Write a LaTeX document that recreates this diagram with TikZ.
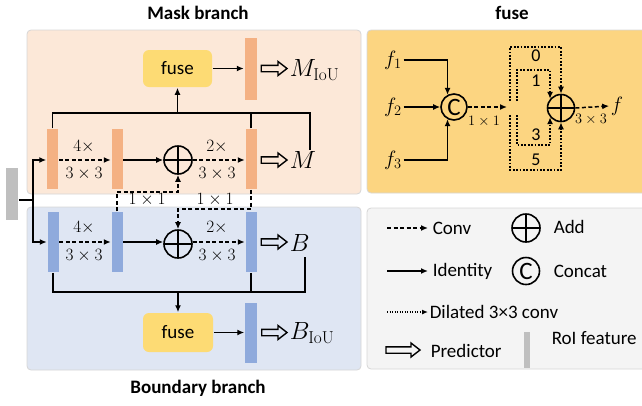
\documentclass[tikz,border=0pt]{standalone}
\usepackage[no-math]{fontspec}
\setmainfont{Carlito}
\usetikzlibrary{arrows.meta,calc}

\definecolor{maskbg}{HTML}{FCE8D8}
\definecolor{bndbg}{HTML}{DFE6F3}
\definecolor{fusebg}{HTML}{FCD581}
\definecolor{fuseyellow}{HTML}{FDDB74}
\definecolor{legbg}{HTML}{F4F4F4}
\definecolor{orangebar}{HTML}{F4B183}
\definecolor{bluebar}{HTML}{8FAADC}
\definecolor{roigray}{HTML}{BFBFBF}
\definecolor{panelline}{HTML}{D6D6D6}

% hollow block arrow (predictor) between two points
\newcommand{\predarr}[2]{%
  \draw[predline] let \p1=(#1), \p2=(#2) in
    (\x1,\y1+3.2pt) -- (\x2-9pt,\y1+3.2pt) -- (\x2-9pt,\y1+7pt) -- (\x2,\y1)
    -- (\x2-9pt,\y1-7pt) -- (\x2-9pt,\y1-3.2pt) -- (\x1,\y1-3.2pt) -- cycle;}

\begin{document}
\begin{tikzpicture}[x=1pt,y=-1pt,line width=1.5pt,
  >={Latex[length=7pt,width=6pt]},
  panel/.style={draw=panelline,line width=0.8pt,rounded corners=4pt},
  obar/.style={fill=orangebar,draw=none,inner sep=0pt,minimum width=11pt,minimum height=60pt},
  bbar/.style={fill=bluebar,draw=none,inner sep=0pt,minimum width=11pt,minimum height=60pt},
  roibar/.style={fill=roigray,draw=none,inner sep=0pt,minimum width=12pt,minimum height=52pt},
  fusenode/.style={fill=fuseyellow,draw=none,rounded corners=6pt,minimum width=69pt,minimum height=37pt,
    font=\fontsize{19}{22}\selectfont},
  addop/.style={circle,draw,line width=1.6pt,minimum size=28pt,inner sep=0pt,
    path picture={\draw[line width=1.4pt] (path picture bounding box.north) -- (path picture bounding box.south)
      (path picture bounding box.west) -- (path picture bounding box.east);}},
  catop/.style={circle,draw,line width=1.6pt,minimum size=26pt,inner sep=0pt,font=\fontsize{25}{26}\selectfont},
  convline/.style={dash pattern=on 4pt off 2.5pt},
  dil/.style={line width=1.8pt,dash pattern=on 1.8pt off 1.6pt},
  dilsmall/.style={line width=1.2pt,dash pattern=on 1.2pt off 1.3pt},
  predline/.style={line width=1.4pt,line join=miter},
  title/.style={font=\bfseries\fontsize{19}{22}\selectfont},
  sans/.style={font=\fontsize{19}{22}\selectfont,inner sep=1pt},
  digit/.style={font=\fontsize{18}{20}\selectfont,inner sep=1pt},
  mlbl/.style={font=\fontsize{16}{18}\selectfont,inner sep=1pt},
  slbl/.style={font=\fontsize{14}{16}\selectfont,inner sep=1pt},
  biglbl/.style={font=\fontsize{25}{28}\selectfont,inner sep=1pt},
  flbl/.style={font=\fontsize{22}{24}\selectfont,inner sep=1pt}]

\useasboundingbox (0,0) rectangle (642,405);

% ---------- panels ----------
\draw[panel,fill=maskbg] (27,30) rectangle (361,194);
\draw[panel,fill=bndbg] (27,207) rectangle (361,370);
\draw[panel,fill=fusebg] (367,30) rectangle (650,193);
\draw[panel,fill=legbg] (367,208) rectangle (650,369);

\node[title] (tmask) at (198,13) {Mask branch};
\node[title] (tfuse) at (512,13) {fuse};
\node[title] (tbnd) at (198,388) {Boundary branch};

% ---------- RoI input ----------
\node[roibar] (roi) at (12,194) {};
\coordinate (split) at (33,200);

% ---------- mask branch ----------
\node[obar] (m1) at (52.5,159) {};
\node[obar] (m2) at (117,159) {};
\node[addop] (madd) at (178,160) {};
\node[obar] (m3) at (251,159) {};
\node[biglbl,anchor=west] (Mlab) at (288,160) {$M$};
\node[fusenode] (mfuse) at (177.5,68.5) {fuse};
\node[obar,minimum width=12pt,minimum height=62pt] (m4) at (250.5,69) {};
\node[biglbl,anchor=west] (MIoU) at (288,70) {$M_{\mathrm{IoU}}$};

\node[mlbl] (m4x) at (84,147) {$4\times$};
\node[mlbl] (m33a) at (84,174) {$3\times3$};
\node[mlbl] (m2x) at (217,147) {$2\times$};
\node[mlbl] (m33b) at (217,174) {$3\times3$};

\draw (roi.east |- split) -- (split);
\draw[->] (split) |- (m1.west |- madd);
\draw[convline,->] (m1.east |- madd) -- (m2.west |- madd);
\draw[->] (m2.east |- madd) -- (madd.west);
\draw[convline,->] (madd.east) -- (m3.west |- madd);
\coordinate (pm1) at ($(m3.east |- madd)+(4,0)$);
\coordinate (pm2) at ($(Mlab.west |- madd)+(-1,0)$);
\predarr{pm1}{pm2}

\coordinate (mtr) at (310,113);
\coordinate (mMend) at (310,150);
\draw (m1.north) |- (mtr) -- (mMend);
\draw (m3.north) -- (m3.north |- mtr);
\draw[->] (mfuse.south |- mtr) -- (mfuse.south);
\draw[->] (mfuse.east) -- (m4.west |- mfuse);
\coordinate (pm3) at ($(m4.east |- mfuse)+(4,0)$);
\coordinate (pm4) at ($(MIoU.west |- mfuse)+(-1,0)$);
\predarr{pm3}{pm4}

% ---------- boundary branch ----------
\node[bbar] (b1) at (53,242) {};
\node[bbar] (b2) at (117,242) {};
\node[addop] (badd) at (178,244) {};
\node[bbar] (b3) at (251,242) {};
\node[biglbl,anchor=west] (Blab) at (288,243) {$B$};
\node[fusenode,minimum width=70pt,minimum height=39pt] (bfuse) at (178,332.5) {fuse};
\node[bbar,minimum width=12pt] (b4) at (251,333) {};
\node[biglbl,anchor=west] (BIoU) at (288,333) {$B_{\mathrm{IoU}}$};

\node[mlbl] (b4x) at (84,228) {$4\times$};
\node[mlbl] (b33a) at (84,256) {$3\times3$};
\node[mlbl] (b2x) at (217,228) {$2\times$};
\node[mlbl] (b33b) at (217,256) {$3\times3$};

\draw[->] (split) |- (b1.west |- b1);
\draw[convline,->] (b1.east) -- (b2.west);
\draw[->] (b2.east) -- (badd.west |- b2);
\draw[convline,->] (badd.east |- b3) -- (b3.west);
\coordinate (pb1) at ($(b3.east)+(4,0)$);
\coordinate (pb2) at ($(Blab.west |- b3)+(-1,0)$);
\predarr{pb1}{pb2}

\coordinate (bbr) at (305,292);
\coordinate (bBend) at (305,257);
\draw (b1.south) |- (bbr) -- (bBend);
\draw (b3.south) -- (b3.south |- bbr);
\draw[->] (bfuse.north |- bbr) -- (bfuse.north);
\draw[->] (bfuse.east) -- (b4.west |- bfuse);
\coordinate (pb3) at ($(b4.east |- bfuse)+(4,0)$);
\coordinate (pb4) at ($(BIoU.west |- bfuse)+(-1,0)$);
\predarr{pb3}{pb4}

% ---------- cross-branch 1x1 convs ----------
\coordinate (xa) at (117,192);
\coordinate (xb) at (251,209);
\draw[convline,->] (b2.north) -- (b2.north |- xa) -| (madd.south);
\draw[convline,->] (m3.south) -- (m3.south |- xb) -| (badd.north);
\node[mlbl] (x11a) at (147,200) {$1\times1$};
\node[mlbl] (x11b) at (215,200) {$1\times1$};

% ---------- fuse module ----------
\node[flbl] (f1) at (393,60) {$f_1$};
\node[flbl] (f2) at (393,107) {$f_2$};
\node[flbl] (f3) at (393,160) {$f_3$};
\node[catop] (cat) at (454,107) {C};
\draw[->] (f1.east) -| (cat.118);
\draw[->] (f2.east) -- (cat.west);
\draw[->] (f3.east) -| (cat.242);
\coordinate (dend) at (507,107);
\draw[convline,->] (cat.east) -- (dend);
\node[slbl] (c11) at (484,121) {$1\times1$};

\node[addop,minimum size=27pt] (fadd) at (561,108) {};
\coordinate (o1) at (510,101);
\coordinate (o1c) at (510,47);
\coordinate (o2) at (510,115);
\coordinate (o2c) at (510,170);
\coordinate (i1) at (517,101);
\coordinate (i1c) at (517,70);
\coordinate (i2) at (517,115);
\coordinate (i2c) at (517,145);
\draw[dil,->] (o1) -- (o1c) -| (fadd.north);
\draw[dil,->] (o2) -- (o2c) -| (fadd.south);
\draw[dil,->] (i1) -- (i1c) -| (fadd.140);
\draw[dil,->] (i2) -- (i2c) -| (fadd.220);
\node[digit] (d0) at (536,56) {0};
\node[digit] (d1) at (536,81) {1};
\node[digit] (d3) at (536,135) {3};
\node[digit] (d5) at (536,160) {5};

\node[flbl] (fout) at (617,106) {$f$};
\draw[convline,->] (fadd.east) -- (fout.west);
\node[slbl] (c33) at (591,119) {$3\times3$};

% ---------- legend ----------
\coordinate (l1a) at (387,228); \coordinate (l1b) at (428,228);
\coordinate (l2a) at (387,271); \coordinate (l2b) at (428,271);
\coordinate (l3a) at (387,312); \coordinate (l3b) at (428,312);
\coordinate (l4a) at (386,350); \coordinate (l4b) at (420,350);
\draw[convline,->] (l1a) -- (l1b);
\draw[->] (l2a) -- (l2b);
\draw[dilsmall,-{Latex[length=6pt,width=5pt]}] (l3a) -- (l3b);
\predarr{l4a}{l4b}
\node[sans,anchor=west] (tconv) at (431,228) {Conv};
\node[sans,anchor=west] (tid) at (431,271) {Identity};
\node[sans,anchor=west] (tdil) at (428,312) {Dilated 3×3 conv};
\node[sans,anchor=west] (tpred) at (429,351) {Predictor};
\node[addop] (ladd) at (526,228) {};
\node[sans,anchor=west] (tadd) at (552,227) {Add};
\node[catop,minimum size=27pt] (lcat) at (526,271) {C};
\node[sans,anchor=west] (tcat) at (552,271) {Concat};
\node[roibar,minimum width=6pt,minimum height=36pt] (lroi) at (527,350) {};
\node[sans,anchor=west] (troi) at (550,338) {RoI feature};

\end{tikzpicture}
\end{document}
